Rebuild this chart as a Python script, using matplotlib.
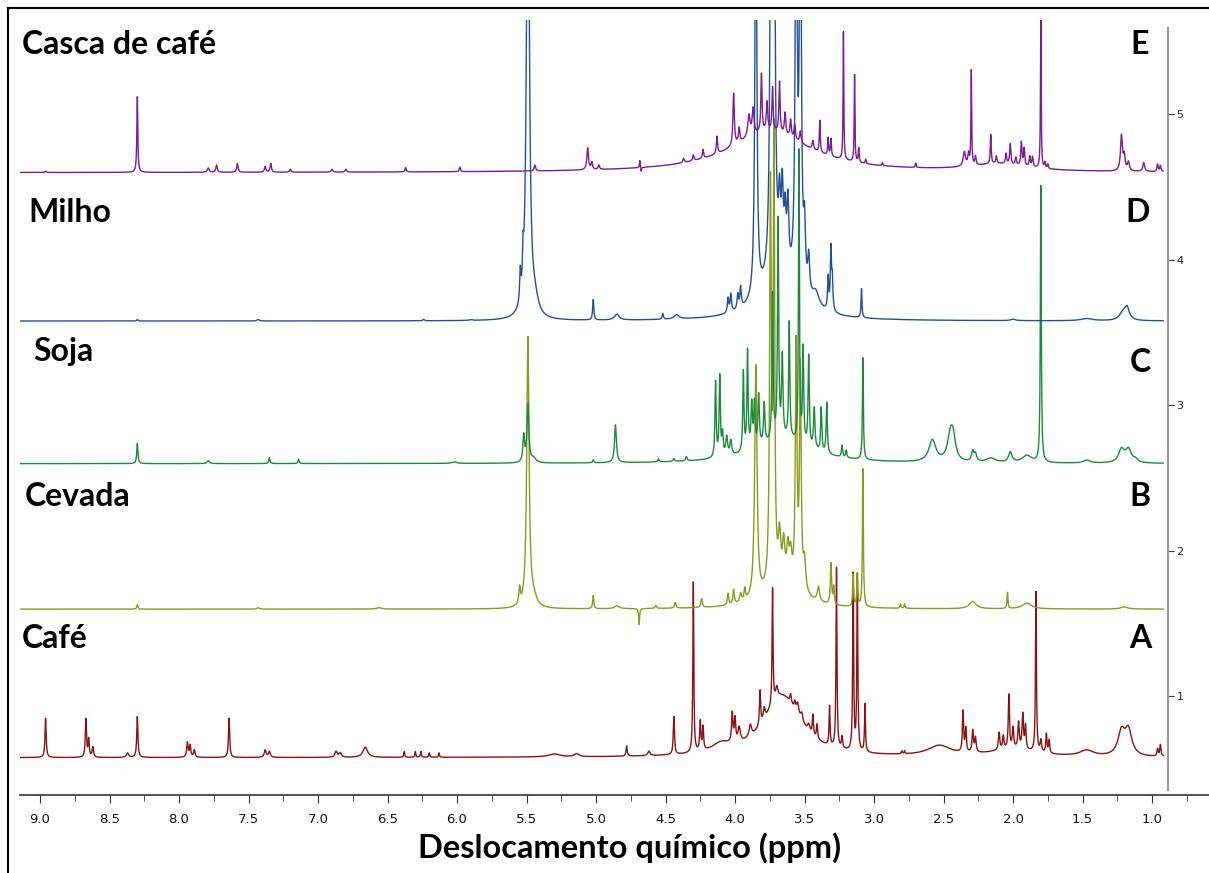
import numpy as np
import matplotlib
matplotlib.use('Agg')
import matplotlib.pyplot as plt
from matplotlib.lines import Line2D
from matplotlib.ticker import MultipleLocator, FormatStrFormatter

# peak lists: (ppm, height, half-width)
cafe_peaks = [
  (8.96, 0.27, 0.005), (8.67, 0.26, 0.005), (8.65, 0.12, 0.005), (8.62, 0.07, 0.006),
  (8.37, 0.03, 0.010), (8.30, 0.28, 0.005),
  (7.94, 0.10, 0.006), (7.92, 0.08, 0.006), (7.89, 0.05, 0.006), (7.64, 0.27, 0.005),
  (7.38, 0.05, 0.008), (7.35, 0.04, 0.008), (6.87, 0.04, 0.010), (6.84, 0.03, 0.010),
  (6.66, 0.07, 0.020), (6.38, 0.04, 0.004), (6.30, 0.04, 0.004), (6.26, 0.04, 0.004),
  (6.20, 0.03, 0.004), (6.13, 0.03, 0.004), (5.30, 0.02, 0.050), (5.14, 0.02, 0.020),
  (4.78, 0.07, 0.005), (4.62, 0.03, 0.010), (4.44, 0.26, 0.005), (4.30, 1.17, 0.004),
  (4.25, 0.20, 0.005), (4.23, 0.16, 0.005), (4.10, 0.06, 0.080),
  (4.02, 0.20, 0.006), (4.00, 0.16, 0.006), (3.97, 0.10, 0.010), (3.89, 0.08, 0.010),
  (3.82, 0.24, 0.005), (3.79, 0.08, 0.008), (3.73, 0.80, 0.004), (3.70, 0.08, 0.010),
  (3.66, 0.42, 0.160), (3.60, 0.06, 0.006), (3.57, 0.05, 0.006),
  (3.55, 0.08, 0.010), (3.52, 0.06, 0.010), (3.47, 0.05, 0.010),
  (3.44, 0.14, 0.005), (3.41, 0.10, 0.005), (3.32, 0.27, 0.004), (3.27, 1.24, 0.004),
  (3.23, 0.08, 0.005), (3.15, 1.21, 0.004), (3.12, 1.21, 0.004), (3.065, 0.33, 0.004),
  (2.80, 0.02, 0.004), (2.78, 0.02, 0.004), (2.53, 0.07, 0.100),
  (2.36, 0.28, 0.005), (2.34, 0.16, 0.005), (2.29, 0.15, 0.006), (2.27, 0.10, 0.006),
  (2.10, 0.12, 0.006), (2.07, 0.09, 0.006), (2.03, 0.37, 0.005), (2.00, 0.14, 0.006),
  (1.96, 0.18, 0.006), (1.93, 0.24, 0.006), (1.91, 0.16, 0.005), (2.00, 0.05, 0.200),
  (1.835, 1.10, 0.004), (1.80, 0.08, 0.006), (1.76, 0.13, 0.005), (1.74, 0.09, 0.005),
  (1.47, 0.04, 0.060), (1.22, 0.16, 0.030), (1.17, 0.17, 0.030), (0.96, 0.05, 0.005),
  (0.94, 0.08, 0.005),
]

cevada_peaks = [
  (8.30, 0.03, 0.005), (7.43, 0.01, 0.010), (6.56, 0.01, 0.020), (5.55, 0.11, 0.006),
  (5.49, 1.85, 0.010), (5.45, 0.06, 0.030), (5.02, 0.09, 0.005), (4.85, 0.02, 0.020),
  (4.69, -0.11, 0.004), (4.57, 0.02, 0.006), (4.43, 0.04, 0.006), (4.24, 0.06, 0.006),
  (4.05, 0.08, 0.006), (4.01, 0.10, 0.006), (3.96, 0.06, 0.008), (3.93, 0.08, 0.006),
  (3.85, 1.60, 0.010), (3.745, 2.70, 0.007), (3.72, 3.00, 0.006),
  (3.68, 0.30, 0.010), (3.65, 0.25, 0.010), (3.62, 0.22, 0.010), (3.60, 0.18, 0.010),
  (3.56, 1.65, 0.007), (3.53, 1.50, 0.007), (3.50, 0.20, 0.010), (3.40, 0.10, 0.010),
  (3.31, 0.28, 0.005), (3.29, 0.12, 0.005), (3.15, 0.22, 0.004), (3.12, 0.22, 0.004),
  (3.08, 0.95, 0.004), (2.81, 0.03, 0.004), (2.78, 0.03, 0.004), (2.29, 0.05, 0.030),
  (2.04, 0.11, 0.004), (1.90, 0.04, 0.040), (1.20, 0.015, 0.030), (3.65, 0.16, 0.150),
]

soja_peaks = [
  (8.30, 0.14, 0.005), (7.79, 0.02, 0.010), (7.35, 0.04, 0.005), (7.14, 0.03, 0.005),
  (6.02, 0.01, 0.020), (5.52, 0.18, 0.007), (5.49, 0.40, 0.008), (5.45, 0.03, 0.020),
  (5.02, 0.02, 0.006), (4.86, 0.26, 0.008), (4.55, 0.02, 0.006), (4.44, 0.02, 0.006),
  (4.35, 0.03, 0.006), (4.14, 0.52, 0.005), (4.11, 0.55, 0.005), (4.09, 0.15, 0.006),
  (4.06, 0.13, 0.008), (4.03, 0.10, 0.008), (3.94, 0.55, 0.005), (3.91, 0.68, 0.005),
  (3.88, 0.30, 0.006), (3.86, 0.30, 0.006), (3.83, 0.35, 0.006), (3.79, 0.28, 0.006),
  (3.73, 1.00, 0.005), (3.69, 1.50, 0.005), (3.66, 0.55, 0.006), (3.61, 0.80, 0.005),
  (3.54, 2.00, 0.004), (3.51, 0.65, 0.005), (3.47, 0.62, 0.005), (3.43, 0.28, 0.006),
  (3.38, 0.30, 0.005), (3.34, 0.35, 0.005), (3.23, 0.08, 0.005), (3.20, 0.05, 0.005),
  (3.08, 0.70, 0.004), (3.65, 0.16, 0.250),
  (2.58, 0.15, 0.030), (2.45, 0.18, 0.025), (2.43, 0.12, 0.020), (2.29, 0.07, 0.010),
  (2.27, 0.05, 0.010), (2.16, 0.03, 0.040), (2.02, 0.07, 0.015), (1.90, 0.05, 0.040),
  (1.80, 1.90, 0.004), (1.47, 0.02, 0.030), (1.22, 0.09, 0.025), (1.17, 0.09, 0.025),
  (1.12, 0.02, 0.020),
]

milho_peaks = [
  (8.30, 0.01, 0.005), (7.43, 0.01, 0.010), (6.24, 0.01, 0.006), (5.90, 0.005, 0.010),
  (5.545, 0.20, 0.005), (5.525, 0.22, 0.005), (5.49, 3.50, 0.012), (5.44, 0.10, 0.030),
  (5.02, 0.14, 0.005), (4.85, 0.04, 0.020), (4.52, 0.04, 0.005), (4.42, 0.03, 0.020),
  (4.05, 0.10, 0.006), (4.03, 0.12, 0.006), (3.98, 0.10, 0.006), (3.96, 0.14, 0.006),
  (3.85, 3.00, 0.008), (3.74, 3.50, 0.008), (3.72, 3.50, 0.008),
  (3.68, 0.40, 0.008), (3.66, 0.50, 0.008), (3.64, 0.35, 0.008), (3.62, 0.45, 0.008),
  (3.56, 3.00, 0.008), (3.53, 3.00, 0.008), (3.50, 0.40, 0.008), (3.47, 0.25, 0.008),
  (3.42, 0.10, 0.030), (3.33, 0.22, 0.005), (3.31, 0.42, 0.005), (3.30, 0.20, 0.005),
  (3.09, 0.20, 0.004), (3.68, 0.30, 0.150), (2.00, 0.01, 0.020),
  (1.47, 0.015, 0.050), (1.21, 0.05, 0.030), (1.18, 0.08, 0.020),
]

casca_peaks = [
  (8.96, 0.01, 0.005), (8.30, 0.52, 0.004), (7.79, 0.03, 0.008), (7.73, 0.05, 0.006),
  (7.58, 0.06, 0.006), (7.38, 0.04, 0.006), (7.34, 0.06, 0.006), (7.20, 0.02, 0.006),
  (6.90, 0.02, 0.006), (6.80, 0.02, 0.006), (6.37, 0.03, 0.005), (5.98, 0.03, 0.005),
  (5.44, 0.04, 0.006), (5.06, 0.15, 0.007), (5.03, 0.05, 0.006), (4.98, 0.03, 0.006),
  (4.685, 0.05, 0.003), (4.675, -0.03, 0.003), (3.75, 0.28, 0.350),
  (4.37, 0.03, 0.006), (4.30, 0.04, 0.006), (4.23, 0.06, 0.005), (4.13, 0.12, 0.005),
  (4.01, 0.36, 0.006), (3.97, 0.10, 0.006), (3.90, 0.15, 0.010), (3.87, 0.18, 0.008),
  (3.81, 0.40, 0.005), (3.77, 0.20, 0.006), (3.73, 0.30, 0.005), (3.68, 0.35, 0.005),
  (3.64, 0.15, 0.006), (3.60, 0.12, 0.006), (3.57, 0.10, 0.006), (3.53, 0.08, 0.006),
  (3.44, 0.06, 0.006), (3.39, 0.22, 0.004), (3.33, 0.12, 0.004), (3.31, 0.12, 0.004),
  (3.22, 0.88, 0.003), (3.14, 0.60, 0.003), (3.11, 0.10, 0.004), (3.06, 0.03, 0.004),
  (2.94, 0.02, 0.004), (2.70, 0.03, 0.004), (2.35, 0.10, 0.010), (2.32, 0.08, 0.006),
  (2.30, 0.65, 0.003), (2.27, 0.06, 0.005), (2.10, 0.05, 0.250), (2.16, 0.20, 0.004),
  (2.12, 0.05, 0.005), (2.05, 0.07, 0.005), (2.02, 0.14, 0.005), (1.98, 0.05, 0.005),
  (1.94, 0.16, 0.005), (1.92, 0.12, 0.005), (1.88, 0.07, 0.005), (1.86, 0.07, 0.005),
  (1.80, 1.02, 0.003), (1.77, 0.04, 0.004), (1.75, 0.03, 0.004), (1.22, 0.24, 0.008),
  (1.20, 0.10, 0.008), (1.17, 0.06, 0.008), (1.06, 0.06, 0.008), (0.96, 0.05, 0.005),
  (0.94, 0.04, 0.005),
]

names = ['Café', 'Cevada', 'Soja', 'Milho', 'Casca de café']
letters = ['A', 'B', 'C', 'D', 'E']
offsets = [0.58, 1.60, 2.60, 3.58, 4.60]
spectra = [cafe_peaks, cevada_peaks, soja_peaks, milho_peaks, casca_peaks]
colors = ['#8b1212', '#8a9a1c', '#1b8a3e', '#23509c', '#7a1b98']


def lorentz_sum(ppm, peaks):
  p = np.array(peaks)
  c, h, w = p[:, 0:1], p[:, 1:2], p[:, 2:3]
  return (h / (1 + ((ppm[None, :] - c) / w) ** 2)).sum(axis=0)


W, H = 1209, 873
fig = plt.figure(figsize=(W / 100, H / 100), dpi=100)
ax = fig.add_axes([20 / W, (H - 795) / H, 1 - 20 / W, (795 - 20) / H])

ppm = np.linspace(9.16, 0.92, 24000)
for peaks, off, col in zip(spectra, offsets, colors):
  ax.plot(ppm, off + lorentz_sum(ppm, peaks), color=col, lw=1.0)

ax.set_xlim(9.144, 0.590)
ax.set_ylim(0.323, 5.649)

for s in ['top', 'left']:
  ax.spines[s].set_visible(False)
ax.spines['bottom'].set_color('#333333')
ax.spines['bottom'].set_linewidth(1.2)
ax.spines['right'].set_position(('data', 0.885))
ax.spines['right'].set_bounds(0.357, 5.595)
ax.spines['right'].set_color('#9a9a9a')
ax.spines['right'].set_linewidth(1.6)

ax.xaxis.set_major_locator(MultipleLocator(0.5))
ax.xaxis.set_minor_locator(MultipleLocator(0.25))
ax.xaxis.set_major_formatter(FormatStrFormatter('%.1f'))
ax.tick_params(axis='x', which='major', length=6, color='#333333', labelsize=9.5,
               labelcolor='#111111', pad=7)
ax.tick_params(axis='x', which='minor', length=4, color='#333333')
for lab in ax.get_xticklabels():
  lab.set_family(['Liberation Sans Narrow', 'DejaVu Sans'])

ax.yaxis.tick_right()
ax.set_yticks([1, 2, 3, 4, 5])
ax.tick_params(axis='y', length=4, color='#333333', labelsize=8, labelcolor='#222222', pad=2)

ax.set_xlabel('Deslocamento químico (ppm)', fontsize=23.5, fontweight='bold', family='Lato')
ax.xaxis.set_label_coords((630 - 20) / (W - 20), -(848 - 795) / (795 - 20))
ax.xaxis.label.set_va('center')

label_pos = [(22, 638), (25, 497), (33, 352), (28, 212), (22, 45)]
letter_pos = [(1140, 638), (1140, 497), (1140, 362), (1138, 212), (1140, 45)]
for name, let, (lx, ly), (rx, ry) in zip(names, letters, label_pos, letter_pos):
  fig.text(lx / W, 1 - ly / H, name, ha='left', va='center', fontsize=23,
           fontweight='bold', family='Lato')
  fig.text(rx / W, 1 - ry / H, let, ha='center', va='center', fontsize=23,
           fontweight='bold', family='Lato')

# outer frame (left and top edges visible in the crop)
fig.add_artist(Line2D([8 / W, 8 / W], [0, 1 - 8 / H], color='black', lw=1.5))
fig.add_artist(Line2D([8 / W, 1], [1 - 8 / H, 1 - 8 / H], color='black', lw=1.5))

plt.savefig('out.png', dpi=100)
